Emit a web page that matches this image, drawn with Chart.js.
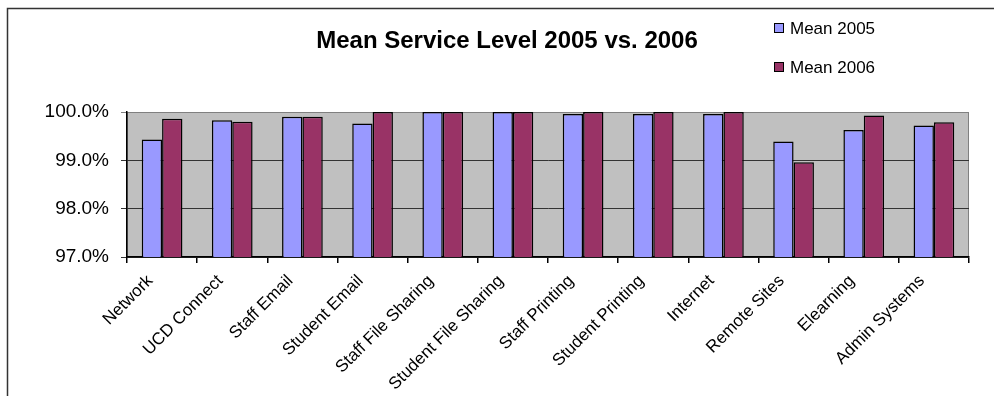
<!DOCTYPE html>
<html>
<head>
<meta charset="utf-8">
<script src="https://cdn.jsdelivr.net/npm/chart.js@4.4.0/dist/chart.umd.min.js"></script>
<style>
  html, body { margin: 0; padding: 0; background: #fff; }
  #wrap { width: 994px; height: 396px; position: relative; }
</style>
</head>
<body>
<div id="wrap"><canvas id="chart" width="994" height="396"></canvas></div>
<script>
// service level chart
const categories = ['Network', 'UCD Connect', 'Staff Email', 'Student Email', 'Staff File Sharing',
  'Student File Sharing', 'Staff Printing', 'Student Printing', 'Internet', 'Remote Sites',
  'Elearning', 'Admin Systems'];
const mean2005 = [99.43, 99.83, 99.90, 99.76, 100.0, 100.0, 99.96, 99.96, 99.96, 99.39, 99.63, 99.72];
const mean2006 = [99.86, 99.80, 99.90, 100.0, 100.0, 100.0, 100.0, 100.0, 100.0, 98.96, 99.93, 99.79];
const yTicks = [97, 98, 99, 100];
const chartTitle = 'Mean Service Level 2005 vs. 2006';

const FONT = '"Liberation Sans", Arial, sans-serif';

// grey plot background + outer frame, title and legend
const decor = {
  id: 'decor',
  beforeDraw(chart) {
    const { ctx, chartArea: a } = chart;
    ctx.save();
    ctx.fillStyle = '#fff';
    ctx.fillRect(0, 0, chart.width, chart.height);
    ctx.fillStyle = '#c0c0c0';
    ctx.fillRect(a.left, a.top, a.right - a.left, a.bottom - a.top);
    ctx.strokeStyle = '#808080';
    ctx.lineWidth = 1;
    ctx.strokeRect(a.left + 0.5, a.top + 0.5, a.right - a.left - 1, a.bottom - a.top);
    // frame
    ctx.strokeStyle = '#333';
    ctx.lineWidth = 1.5;
    ctx.beginPath();
    ctx.moveTo(7.5, chart.height);
    ctx.lineTo(7.5, 8.5);
    ctx.lineTo(chart.width, 8.5);
    ctx.stroke();
    ctx.restore();
  },
  afterDraw(chart) {
    const { ctx } = chart;
    ctx.save();
    ctx.fillStyle = '#000';
    ctx.font = 'bold 24px ' + FONT;
    ctx.textAlign = 'center';
    ctx.textBaseline = 'middle';
    ctx.fillText(chartTitle, 507, 41);
    ctx.font = '17px ' + FONT;
    ctx.textAlign = 'left';
    chart.data.datasets.forEach((ds, i) => {
      const y = 28 + i * 39;
      ctx.fillStyle = ds.backgroundColor;
      ctx.fillRect(774, y - 5, 10, 10);
      ctx.strokeStyle = '#000';
      ctx.lineWidth = 1;
      ctx.strokeRect(774.5, y - 4.5, 9, 9);
      ctx.fillStyle = '#000';
      ctx.fillText(ds.label, 790, y + 1);
    });
    ctx.restore();
  }
};

new Chart(document.getElementById('chart'), {
  type: 'bar',
  data: {
    labels: categories,
    datasets: [
      { label: 'Mean 2005', data: mean2005, backgroundColor: '#9999ff', borderColor: '#000', borderWidth: 1.5, borderSkipped: false },
      { label: 'Mean 2006', data: mean2006, backgroundColor: '#993366', borderColor: '#000', borderWidth: 1.5, borderSkipped: false }
    ]
  },
  options: {
    responsive: false,
    animation: false,
    events: [],
    categoryPercentage: 0.58,
    barPercentage: 1.0,
    layout: { padding: { left: 7, top: 112, right: 25, bottom: 0 } },
    plugins: { legend: { display: false }, title: { display: false }, tooltip: { enabled: false } },
    scales: {
      x: {
        afterFit(s) { s.height = 139; },
        border: { color: '#000', width: 1.5 },
        grid: { offset: true, drawOnChartArea: false, tickLength: 6, color: '#000', lineWidth: 1.5 },
        ticks: {
          color: '#000', font: { family: FONT, size: 17 },
          minRotation: 45, maxRotation: 45, autoSkip: false, padding: 8, labelOffset: -12
        }
      },
      y: {
        min: 97, max: 100,
        afterFit(s) { s.width = 120; },
        afterBuildTicks(s) { s.ticks = yTicks.map(v => ({ value: v })); },
        border: { color: '#000', width: 1.5 },
        grid: {
          tickLength: 6, lineWidth: 1,
          color: c => (c.tick && c.tick.value === 100) ? '#808080' : '#333'
        },
        ticks: {
          color: '#000', font: { family: FONT, size: 19 }, padding: 12,
          callback: v => v.toFixed(1) + '%'
        }
      }
    }
  },
  plugins: [decor]
});
</script>
</body>
</html>
